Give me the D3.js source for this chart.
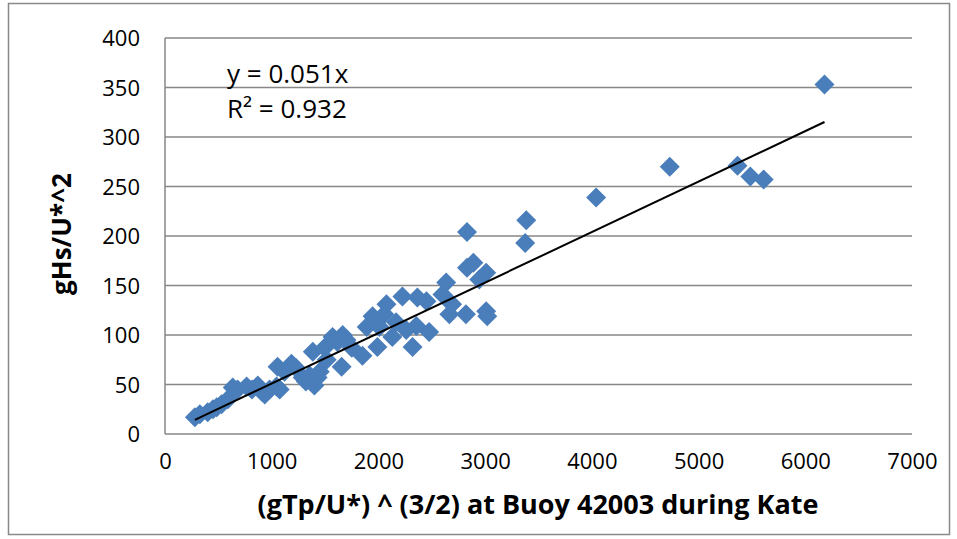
<!DOCTYPE html>
<html>
<head>
<meta charset="utf-8">
<title>Scatter Chart</title>
<script src="https://d3js.org/d3.v7.min.js"></script>
<style>
  body { margin: 0; background: #fff; }
  text { font-family: "Open Sans", "DejaVu Sans", sans-serif; fill: #000; }
</style>
</head>
<body>
<div id="chart"></div>
<script>
// data
var xVals = [280, 327, 400, 450, 485, 530, 590, 635, 680, 765, 815, 870, 905, 935, 980,
  1045, 1075, 1055, 1120, 1185, 1225, 1290, 1320, 1355, 1385, 1400, 1430, 1450, 1515, 1495,
  1570, 1615, 1665, 1655, 1700, 1750, 1850, 1890, 1945, 1990, 2010, 2075, 2055, 2130, 2165,
  2225, 2260, 2320, 2355, 2365, 2450, 2475, 2600, 2635, 2665, 2690, 2820, 2830, 2830, 2890,
  2945, 3010, 3010, 3020, 3385, 3375, 4040, 4730, 5365, 5485, 5610, 6180];
var yVals = [17, 20, 22, 25, 27, 30, 35, 47, 45, 48, 45, 49, 43, 40, 45,
  48, 45, 68, 63, 71, 67, 57, 53, 59, 83, 49, 57, 63, 75, 87,
  98, 93, 100, 68, 95, 87, 79, 108, 119, 88, 108, 131, 121, 98, 113,
  139, 105, 88, 109, 138, 134, 103, 141, 153, 121, 131, 121, 168, 204, 173,
  156, 163, 124, 119, 216, 193, 239, 270, 271, 260, 257, 353];
var xTicks = [0, 1000, 2000, 3000, 4000, 5000, 6000, 7000];
var yTicks = [0, 50, 100, 150, 200, 250, 300, 350, 400];
var slope = 0.051;
var eqLines = ["y = 0.051x", "R\u00b2 = 0.932"];

var width = 957, height = 539;
var svg = d3.select("#chart").append("svg")
  .attr("width", width).attr("height", height);

// chart border
svg.append("rect")
  .attr("x", 8.5).attr("y", 3.5)
  .attr("width", 941).attr("height", 531)
  .attr("fill", "none").attr("stroke", "#898989").attr("stroke-width", 1.5);

var x = d3.scaleLinear().domain([0, 7000]).range([165, 912]);
var y = d3.scaleLinear().domain([0, 400]).range([434, 38]);

// gridlines
svg.append("g")
  .selectAll("line").data(yTicks).join("line")
  .attr("x1", x(0)).attr("x2", x(7000))
  .attr("y1", function(d) { return y(d); }).attr("y2", function(d) { return y(d); })
  .attr("stroke", "#878787").attr("stroke-width", 1.5);

// left border of plot
svg.append("line")
  .attr("x1", x(0)).attr("x2", x(0))
  .attr("y1", y(0)).attr("y2", y(400))
  .attr("stroke", "#878787").attr("stroke-width", 1.5);

// y axis
var yAxis = svg.append("g")
  .attr("transform", "translate(" + (x(0) - 25) + ",0)")
  .call(d3.axisLeft(y).tickValues(yTicks).tickSize(0).tickPadding(0));
yAxis.select(".domain").remove();
yAxis.selectAll("text").style("font-size", "22px").attr("dy", "0.35em");

// x axis
var xAxis = svg.append("g")
  .attr("transform", "translate(0," + (y(0) + 19) + ")")
  .call(d3.axisBottom(x).tickValues(xTicks).tickFormat(d3.format("d"))
    .tickSize(0).tickPadding(0));
xAxis.select(".domain").remove();
xAxis.selectAll("text").style("font-size", "22px").attr("dy", "0.71em");

// axis titles
svg.append("text")
  .attr("x", 538).attr("y", 514)
  .attr("text-anchor", "middle")
  .style("font-size", "27px").style("font-weight", "bold")
  .text("(gTp/U*) ^ (3/2) at Buoy 42003 during Kate");

svg.append("text")
  .attr("transform", "translate(71,234) rotate(-90)")
  .attr("text-anchor", "middle")
  .style("font-size", "26px").style("font-weight", "bold")
  .text("gHs/U*^2");

// points
var pts = xVals.map(function(v, i) { return {x: v, y: yVals[i]}; });
var diamond = d3.symbol().type(d3.symbolSquare).size(200);
svg.append("g")
  .selectAll("path").data(pts).join("path")
  .attr("d", diamond)
  .attr("transform", function(d) {
    return "translate(" + x(d.x) + "," + y(d.y) + ") rotate(45)";
  })
  .attr("fill", "#4a7ebb");

// trendline through origin
var xMin = d3.min(xVals), xMax = d3.max(xVals);
svg.append("path")
  .datum([xMin, xMax])
  .attr("fill", "none")
  .attr("stroke", "#000")
  .attr("stroke-width", 2)
  .attr("d", d3.line()
    .x(function(d) { return x(d); })
    .y(function(d) { return y(slope * d); }));

// equation label
svg.append("g").selectAll("text").data(eqLines).join("text")
  .attr("x", 227)
  .attr("y", function(d, i) { return 83 + i * 35; })
  .style("font-size", "26px")
  .text(function(d) { return d; });
</script>
</body>
</html>
